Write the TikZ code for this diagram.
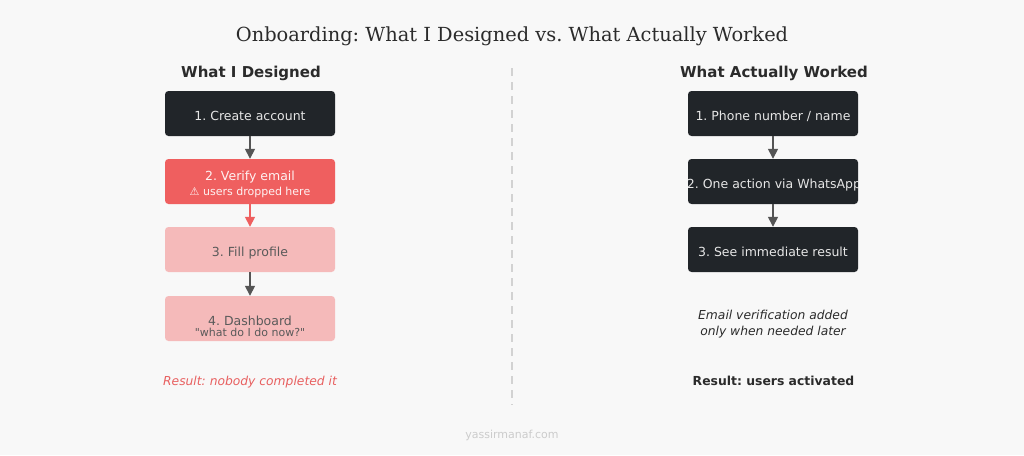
\documentclass[tikz,border=0pt]{standalone}
\usepackage{fontspec}
\setmainfont{DejaVu Sans}
\newfontfamily\titlefont{DejaVu Serif}
\usetikzlibrary{arrows.meta}
\definecolor{bg}{HTML}{F8F8F8}
\definecolor{dark}{HTML}{212529}
\definecolor{redbox}{HTML}{EF5F5F}
\definecolor{pinkbox}{HTML}{F5BABA}
\definecolor{arrgray}{HTML}{555555}
\definecolor{boxtxt}{HTML}{E6E6E6}
\definecolor{pinktxt}{HTML}{5A5A5A}
\definecolor{restxt}{HTML}{E86060}
\definecolor{headtxt}{HTML}{2B2B2B}
\newcommand{\sq}{\XeTeXglyph\XeTeXcharglyph"22\relax}
\begin{document}
\frenchspacing
\begin{tikzpicture}[x=1pt,y=-1pt,
  stepbox/.style={rounded corners=3.5pt, minimum width=170pt, minimum height=45pt, inner sep=0pt},
  darkbox/.style={stepbox, fill=dark},
  redstep/.style={stepbox, fill=redbox},
  pinkstep/.style={stepbox, fill=pinkbox},
  btext/.style={anchor=base, inner sep=0pt, font=\fontsize{12.5}{15}\selectfont},
  stext/.style={anchor=base, inner sep=0pt, font=\fontsize{11}{13}\selectfont},
  flow/.style={draw=arrgray, line width=1.5pt, -{Triangle[length=10pt,width=10pt]}},
  head/.style={anchor=base, inner sep=0pt, font=\bfseries\fontsize{15}{17}\selectfont, text=headtxt},
  ital/.style={anchor=base, inner sep=0pt, font=\itshape\fontsize{12.3}{14}\selectfont},
  boldres/.style={anchor=base, inner sep=0pt, font=\bfseries\fontsize{12.4}{14}\selectfont}
]
\fill[bg] (0,0) rectangle (1024,455);
\useasboundingbox (0,0) rectangle (1024,455);
\node[anchor=base, inner sep=0pt, font=\titlefont\fontsize{19.4}{22}\selectfont, text=headtxt] (title) at (512,41) {Onboarding: What I Designed vs. What Actually Worked};
\node[head] (hl) at (251,77.3) {What I Designed};
\node[head] (hr) at (774,77.3) {What Actually Worked};
\coordinate (dtop) at (512,68);
\coordinate (dbot) at (512,405);
\draw[gray!35, line width=1.5pt, dash pattern=on 8pt off 6pt] (dtop) -- (dbot);

% left column
\node[darkbox] (l1) at (250,113.5) {};
\node[btext, text=boxtxt] (l1t) at (250,120) {1. Create account};
\node[redstep] (l2) at (250,181.5) {};
\node[btext, text=white!92!redbox] (l2t) at (250,180) {2. Verify email};
\node[stext, text=white!92!redbox] (l2s) at (250,195) {⚠ users dropped here};
\node[pinkstep] (l3) at (250,249.5) {};
\node[btext, text=pinktxt] (l3t) at (250,256) {3. Fill profile};
\node[pinkstep] (l4) at (250,318.5) {};
\node[btext, text=pinktxt] (l4t) at (250,325) {4. Dashboard};
\node[stext, text=pinktxt] (l4s) at (250,336) {\sq what do I do now?\sq};
\draw[flow] (l1) -- (l2);
\draw[flow, draw=redbox] (l2) -- (l3);
\draw[flow] (l3) -- (l4);

% right column
\node[darkbox] (r1) at (773,113.5) {};
\node[btext, text=boxtxt] (r1t) at (773,120) {1. Phone number / name};
\node[darkbox] (r2) at (773,181.5) {};
\begin{scope}
\clip[rounded corners=3.5pt] (688,159) rectangle (858,204);
\node[btext, text=boxtxt] (r2t) at (774,188) {2. One action via WhatsApp};
\end{scope}
\node[darkbox] (r3) at (773,249.5) {};
\node[btext, text=boxtxt] (r3t) at (773,256) {3. See immediate result};
\draw[flow] (r1) -- (r2);
\draw[flow] (r2) -- (r3);

\node[ital, text=headtxt] (note1) at (773,319) {Email verification added};
\node[ital, text=headtxt] (note2) at (773,335.7) {only when needed later};
\node[ital, text=restxt] (resl) at (250,385) {Result: nobody completed it};
\node[boldres, text=headtxt] (resr) at (773.5,385) {Result: users activated};
\node[anchor=base, inner sep=0pt, font=\fontsize{11}{13}\selectfont, text=gray!40] (foot) at (512,438) {yassirmanaf.com};
\end{tikzpicture}
\end{document}
